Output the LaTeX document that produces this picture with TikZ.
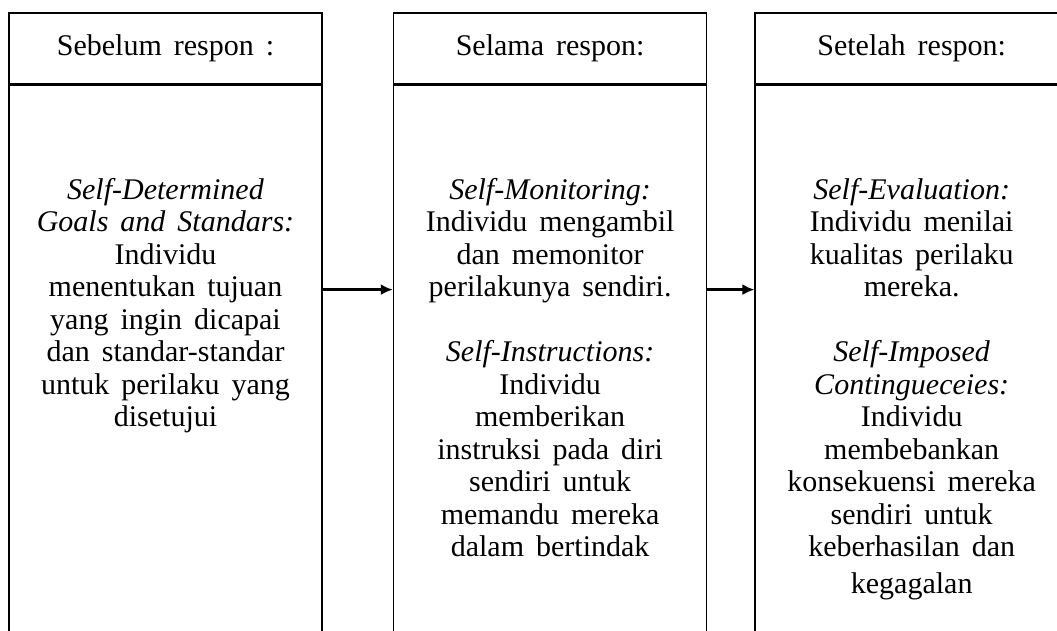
\documentclass[tikz,border=0pt]{standalone}
\usepackage{fontspec}
\setmainfont{Liberation Serif}[WordSpace=1.6]
\usetikzlibrary{arrows.meta,positioning}

\begin{document}
\begin{tikzpicture}[x=1pt, y=1pt,
  font=\fontsize{30}{32.5}\selectfont,
  head/.style={draw, line width=1.6pt, minimum width=313pt, minimum height=71pt, inner sep=0pt},
  body/.style={draw, line width=1.6pt, minimum width=313pt, minimum height=560pt, inner sep=0pt},
  txt/.style={align=center, inner sep=0pt, anchor=north},
  arr/.style={-{Latex[length=12pt, width=11pt]}, line width=2.6pt}
]
\useasboundingbox (0,0) rectangle (1057,-630);
\clip (0,0) rectangle (1057,-630);
\node[head] (h1) at (165.5,-48.5) {Sebelum respon :};
\node[head, right=70pt of h1] (h2) {Selama respon:};
\node[head, right=47pt of h2] (h3) {Setelah respon:};
\node[body, below=0pt of h1] (b1) {};
\node[body, below=0pt of h2] (b2) {};
\node[body, below=0pt of h3] (b3) {};
\node[txt] (t1) at ([yshift=-93pt]b1.north) {\textit{Self-Determined}\\
  \textit{Goals and Standars:}\\ Individu\\ menentukan tujuan\\
  yang ingin dicapai\\ dan standar-standar\\ untuk perilaku yang\\ disetujui};
\node[txt] (t2) at ([yshift=-93pt]b2.north) {\textit{Self-Monitoring:}\\
  Individu mengambil\\ dan memonitor\\ perilakunya sendiri.\\[32.5pt]
  \textit{Self-Instructions:}\\ Individu\\ memberikan\\ instruksi pada diri\\
  sendiri untuk\\ memandu mereka\\ dalam bertindak};
\node[txt] (t3) at ([yshift=-93pt]b3.north) {\textit{Self-Evaluation:}\\
  Individu menilai\\ kualitas perilaku\\ mereka.\\[32.5pt]
  \textit{Self-Imposed}\\ \textit{Contingueceies:}\\ Individu\\ membebankan\\
  konsekuensi mereka\\ sendiri untuk\\ keberhasilan dan\\[4pt] kegagalan};
\draw[arr] ([yshift=76pt]b1.east) -- ([yshift=76pt]b2.west);
\draw[arr] ([yshift=76pt]b2.east) -- ([yshift=76pt]b3.west);
\end{tikzpicture}
\end{document}
